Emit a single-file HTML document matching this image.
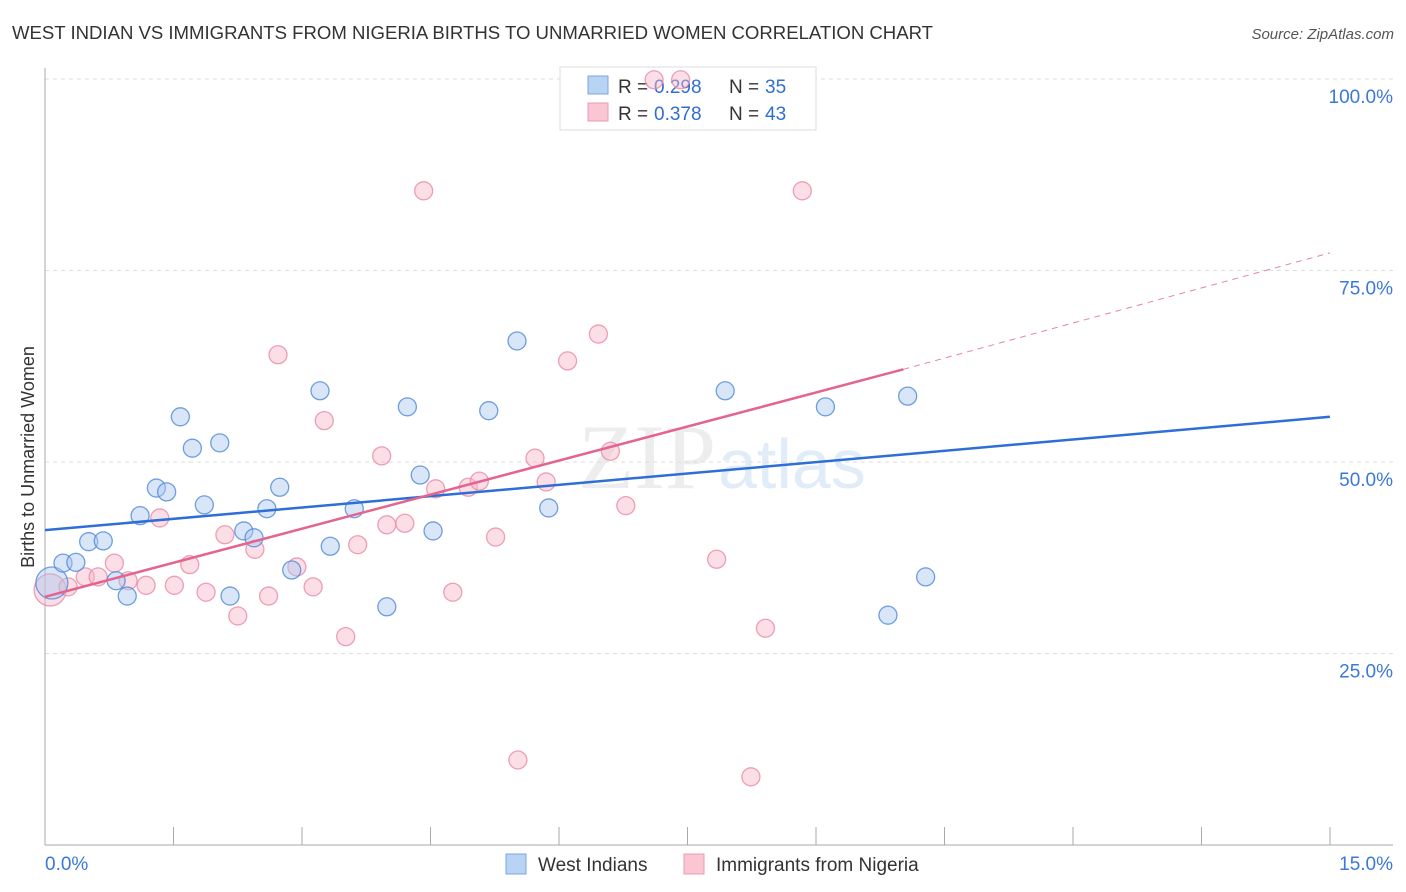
<!DOCTYPE html>
<html><head><meta charset="utf-8"><style>
body{margin:0;background:#fff;font-family:"Liberation Sans",sans-serif;}
#wrap{position:relative;width:1406px;height:892px;overflow:hidden;}
</style></head><body>
<div id="wrap">
<svg id="svg" width="1406" height="892" xmlns="http://www.w3.org/2000/svg">
<text x="12" y="39" font-size="18.6" fill="#333" textLength="921">WEST INDIAN VS IMMIGRANTS FROM NIGERIA BIRTHS TO UNMARRIED WOMEN CORRELATION CHART</text>
<text x="1394" y="39" font-size="15" fill="#555" font-style="italic" text-anchor="end">Source: ZipAtlas.com</text>
<text x="34" y="457" font-size="18" fill="#333" text-anchor="middle" transform="rotate(-90 34 457)">Births to Unmarried Women</text>
<text x="716" y="488" font-size="92" font-family="Liberation Serif,serif" fill="#ccc" fill-opacity="0.35" text-anchor="end">ZIP</text>
<text x="718" y="488" font-size="70" fill="#a9c8ee" fill-opacity="0.35">atlas</text>
<g id="grid"></g>
<g>
<rect x="560" y="67" width="256" height="63" fill="#fff" stroke="#ddd"/>
<rect x="588" y="76" width="20" height="18" fill="#b9d3f5" stroke="#7aa5dd"/>
<rect x="588" y="103" width="20" height="18" fill="#fbc6d4" stroke="#eb9ab0"/>
<g font-size="19">
<text x="618" y="93" fill="#333">R =</text><text x="654" y="93" fill="#2f6fd0">0.298</text>
<text x="729" y="93" fill="#333">N =</text><text x="765" y="93" fill="#2f6fd0">35</text></g>
<g font-size="19">
<text x="618" y="120" fill="#333">R =</text><text x="654" y="120" fill="#2f6fd0">0.378</text>
<text x="729" y="120" fill="#333">N =</text><text x="765" y="120" fill="#2f6fd0">43</text></g>
</g>
<g id="marks"></g><g id="lines"></g>
<g>
<rect x="506" y="854" width="20" height="20" fill="#b9d3f5" stroke="#7aa5dd"/>
<text x="538" y="871" font-size="19" fill="#333">West Indians</text>
<rect x="684" y="854" width="20" height="20" fill="#fbc6d4" stroke="#eb9ab0"/>
<text x="716" y="871" font-size="19" fill="#333">Immigrants from Nigeria</text>
</g>
</svg>
</div>
<script>
const yTicks=[25,50,75,100];
const yTickLabels=["25.0%","50.0%","75.0%","100.0%"];
const xTicks=[0,1.5,3,4.5,6,7.5,9,10.5,12,13.5,15];
const blueX=[0.08,0.21,0.36,0.51,0.68,0.83,0.96,1.11,1.30,1.42,1.58,1.72,1.86,2.04,2.16,2.32,2.44,2.59,2.74,2.88,3.21,3.33,3.61,3.99,4.23,4.38,4.53,5.18,5.51,5.88,7.94,9.11,9.84,10.07,10.28];
const blueY=[34.2,36.8,36.9,39.6,39.7,34.5,32.5,43.0,46.6,46.1,55.9,51.8,44.4,52.5,32.5,41.0,40.1,43.9,46.7,35.9,59.3,39.0,43.9,31.1,57.2,48.3,41.0,56.7,65.8,44.0,59.3,57.2,30.0,58.6,35.0];
const pinkX=[0.06,0.27,0.47,0.62,0.81,0.97,1.18,1.34,1.51,1.69,1.88,2.10,2.25,2.45,2.61,2.72,2.94,3.13,3.26,3.51,3.65,3.93,3.99,4.20,4.42,4.56,4.76,4.94,5.07,5.26,5.52,5.72,5.85,6.10,6.46,6.60,6.78,7.11,7.42,7.84,8.24,8.41,8.84];
const pinkY=[33.3,33.7,35.0,35.0,36.8,34.5,33.9,42.7,33.9,36.6,33.0,40.5,29.9,38.6,32.5,64.0,36.3,33.7,55.4,27.2,39.2,50.8,41.8,42.0,85.4,46.5,33.0,46.7,47.5,40.2,11.1,50.5,47.4,63.2,66.7,51.4,44.3,99.9,99.9,37.3,8.9,28.3,85.4];
const blueTrend=[41.1,55.9];
const pinkTrend=[32.4,62.1,77.3];
const pinkTrendX=[0,10.02,15];
const NS="http://www.w3.org/2000/svg";
const sx=v=>45+v/15*1285;
const sy=v=>845-v/100*766;
function mk(tag,attrs,parent){const e=document.createElementNS(NS,tag);for(const k in attrs)e.setAttribute(k,attrs[k]);parent.appendChild(e);return e;}
const grid=document.getElementById('grid'),marks=document.getElementById('marks'),lines=document.getElementById('lines');
yTicks.forEach((t,i)=>{
 const l=mk('line',{x1:45,x2:1393,y1:sy(t),y2:sy(t),stroke:'#ddd','stroke-dasharray':'4 4'},grid);
 
 
 const tx=mk('text',{x:1393,y:sy(t)+24,'font-size':19,fill:'#3b78d8','text-anchor':'end'},grid);
 tx.textContent=yTickLabels[i];
 
 
});
const ax=mk('line',{x1:45,x2:45,y1:68,y2:845,stroke:'#aaa'},grid);


const bx=mk('line',{x1:45,x2:1393,y1:845,y2:845,stroke:'#aaa'},grid);


xTicks.forEach(t=>{
 const l=mk('line',{x1:sx(t),x2:sx(t),y1:827,y2:845,stroke:'#aaa'},grid);
 
 
});
const x0=mk('text',{x:45,y:870,'font-size':19,fill:'#3b78d8'},grid);x0.textContent='0.0%';


const x1=mk('text',{x:1393,y:870,'font-size':19,fill:'#3b78d8','text-anchor':'end'},grid);x1.textContent='15.0%';


function pts(X,Y,fill,stroke,name){X.forEach((x,i)=>{const r=i==0?16:9;
 const c=mk('circle',{cx:sx(x),cy:sy(Y[i]),r:r,fill:fill,'fill-opacity':0.45,stroke:stroke,'stroke-width':1.3,'stroke-opacity':0.8},marks);
 
 });}
pts(pinkX,pinkY,'#f7b6c8','#e88aa6','nigeria-point');
pts(blueX,blueY,'#a8c7f0','#4d88d8','west-indian-point');
const bl=mk('line',{x1:sx(0),y1:sy(blueTrend[0]),x2:sx(15),y2:sy(blueTrend[1]),stroke:'#2e6fd6','stroke-width':2.5},lines);


const pl=mk('line',{x1:sx(pinkTrendX[0]),y1:sy(pinkTrend[0]),x2:sx(pinkTrendX[1]),y2:sy(pinkTrend[1]),stroke:'#e5648e','stroke-width':2.5},lines);


const pd=mk('line',{x1:sx(pinkTrendX[1]),y1:sy(pinkTrend[1]),x2:sx(pinkTrendX[2]),y2:sy(pinkTrend[2]),stroke:'#e5869f','stroke-width':1,'stroke-dasharray':'6 5'},lines);


</script>
</body></html>
